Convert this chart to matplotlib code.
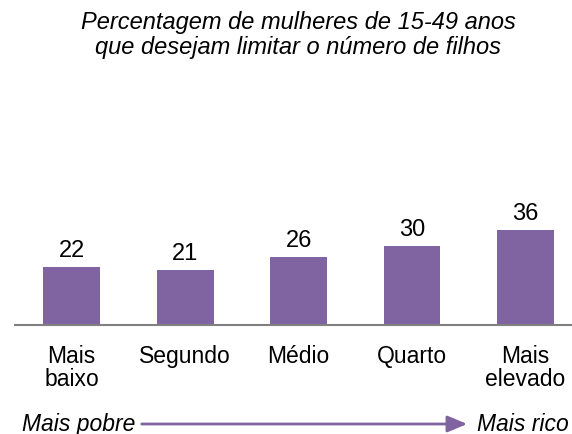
import matplotlib.pyplot as plt
from matplotlib.patches import FancyArrowPatch

plt.rcParams["font.family"] = ["Liberation Sans", "DejaVu Sans"]

categories = ["Mais\nbaixo", "Segundo", "Médio", "Quarto", "Mais\nelevado"]
values = [22, 21, 26, 30, 36]
title = "Percentagem de mulheres de 15-49 anos\nque desejam limitar o número de filhos"

BAR_COLOR = "#8064A2"
W, H = 572, 435

fig = plt.figure(figsize=(W / 100, H / 100), dpi=100)
ax = fig.add_axes([15 / W, (H - 326) / H, (W - 15) / W, 226 / H])

x = list(range(len(values)))
ax.bar(x, values, width=0.5, color=BAR_COLOR)
for xi, v in zip(x, values):
    ax.text(xi, v + 2.3, str(v), ha="center", va="bottom", fontsize=17)

ax.set_xlim(-0.5, 4.41)
ax.set_ylim(0, 86)
for s in ["top", "right", "left"]:
    ax.spines[s].set_visible(False)
ax.spines["bottom"].set_color("#808080")
ax.spines["bottom"].set_linewidth(1.5)
ax.set_yticks([])
ax.set_xticks(x)
ax.set_xticklabels(categories, fontsize=16.5, linespacing=1.0)
ax.tick_params(axis="x", length=0, pad=14)

fig.text(298 / W, 1 - 35 / H, title, ha="center", va="center", fontsize=17,
         style="italic", linespacing=1.12)

fig.text(22 / W, 1 - 425 / H, "Mais pobre", ha="left", va="center",
         fontsize=16.5, style="italic")
fig.text(477 / W, 1 - 425 / H, "Mais rico", ha="left", va="center",
         fontsize=16.5, style="italic")
fig.patches.append(FancyArrowPatch(
    (139 / W, 1 - 425 / H), (470 / W, 1 - 425 / H), transform=fig.transFigure,
    arrowstyle="-|>,head_length=12,head_width=5", color=BAR_COLOR, lw=2,
    mutation_scale=1))

fig.savefig("out.png", dpi=100)
